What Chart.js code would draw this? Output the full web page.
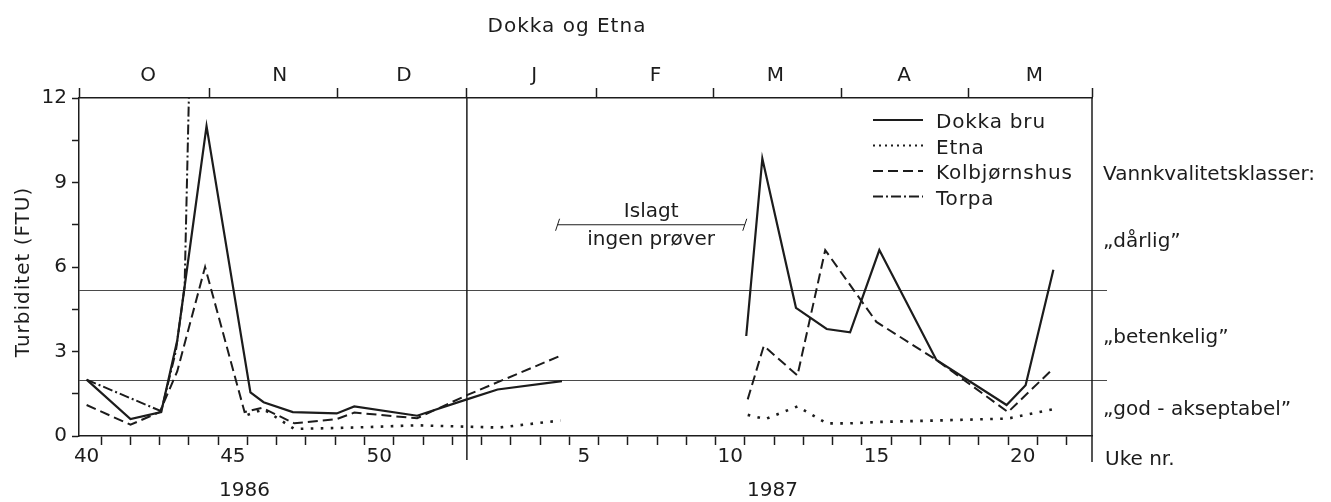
<!DOCTYPE html>
<html>
<head>
<meta charset="utf-8">
<script src="https://cdn.jsdelivr.net/npm/chart.js@4.4.1/dist/chart.umd.min.js"></script>
<style>
  html, body { margin: 0; padding: 0; background: #fff; }
</style>
</head>
<body>
<canvas id="turbiditet" width="1331" height="502"></canvas>
<script>
// Uke-akse: 1987-uker regnes som 52 + uke, slik at aksen blir sammenhengende.
// null = ingen prøver (islagt periode).
const dokkaWeeks  = [40.0, 41.5, 42.55, 43.1, 44.1, 45.6, 46.05, 47.05, 48.55, 49.15, 51.3, 53.0, 54.05, 56.25, 59, 62.55, 63.1, 64.25, 65.3, 66.1, 67.1, 69.05, 71.45, 72.1, 73.05];
const dokkaValues = [2.0, 0.6, 0.85, 3.4, 11.0, 1.55, 1.2, 0.85, 0.8, 1.05, 0.72, 1.3, 1.65, 1.95, null, 3.55, 9.85, 4.55, 3.8, 3.68, 6.6, 2.7, 1.1, 1.8, 5.9];

const etnaWeeks  = [45.5, 46.05, 47.1, 49.15, 51.3, 53.0, 54.1, 56.2, 59, 62.6, 63.2, 64.3, 65.3, 66.1, 67.1, 69.05, 71.5, 73.05];
const etnaValues = [0.75, 0.95, 0.25, 0.3, 0.38, 0.33, 0.3, 0.55, null, 0.75, 0.6, 1.05, 0.45, 0.45, 0.5, 0.55, 0.62, 0.95];

const kolbWeeks  = [40.0, 41.5, 42.5, 43.1, 44.05, 45.4, 46.0, 47.1, 48.55, 49.15, 51.3, 53.0, 56.2, 59, 62.6, 63.15, 64.3, 65.25, 67.0, 69.05, 71.5, 73.0];
const kolbValues = [1.1, 0.4, 0.85, 2.3, 6.0, 0.85, 1.0, 0.45, 0.6, 0.83, 0.63, 1.45, 2.85, null, 1.3, 3.2, 2.15, 6.6, 4.05, 2.7, 0.85, 2.35];

const torpaWeeks  = [40.0, 42.55, 43.05, 43.35, 43.55];
const torpaValues = [2.0, 0.88, 3.0, 5.3, 14.5];

const weekLabels = { 40: '40', 45: '45', 50: '50', 57: '5', 62: '10', 67: '15', 72: '20' };
const yTickValues = [0, 1.5, 3, 4.5, 6, 7.5, 9, 10.5, 12];

const monthNames   = ['O', 'N', 'D', 'J', 'F', 'M', 'A', 'M'];
const monthCenters = [42.1, 46.6, 50.85, 55.3, 59.45, 63.55, 67.95, 72.4];
const monthBounds  = [44.2, 48.57, 53.0, 57.43, 61.42, 65.81, 70.14];

const yearNames = ['1986', '1987'];
const yearCenters = [45.4, 63.45];
const yearLine = 53.0;

const classLimits = [5.2, 2.0];
const classNames = ['„dårlig”', '„betenkelig”', '„god - akseptabel”'];

const islagtFrom = 56.1, islagtTo = 62.5, islagtLevel = 7.5;

const xMin = 39.74, xMax = 74.37;
const INK = '#1c1c1c';
const FONT = '"DejaVu Sans", sans-serif';

Chart.defaults.font.family = FONT;
Chart.defaults.font.size = 20;
Chart.defaults.color = INK;

function points(weeks, values) {
    return weeks.map((w, i) => ({ x: w, y: values[i] }));
}

function line(ctx, x1, y1, x2, y2) {
    ctx.beginPath();
    ctx.moveTo(x1, y1);
    ctx.lineTo(x2, y2);
    ctx.stroke();
}

const decor = {
    id: 'decor',
    beforeDatasetsDraw(chart) {
        const { ctx, chartArea: a, scales: { y } } = chart;
        ctx.save();
        ctx.strokeStyle = '#4a4a4a';
        ctx.lineWidth = 1;
        classLimits.forEach(v => {
            const py = Math.round(y.getPixelForValue(v)) + 0.5;
            line(ctx, a.left, py, a.right + 15, py);
        });
        ctx.restore();
    },
    afterDatasetsDraw(chart) {
        const { ctx, chartArea: a, scales: { x, y } } = chart;
        ctx.save();
        ctx.strokeStyle = INK;
        ctx.fillStyle = INK;
        ctx.lineWidth = 1.5;

        // årsskille og høyre kant
        const yx = x.getPixelForValue(yearLine);
        line(ctx, yx, a.top, yx, a.bottom + 24);
        line(ctx, a.right, a.top, a.right, a.bottom + 26);

        // islagt periode
        const ly = y.getPixelForValue(islagtLevel);
        const lx1 = x.getPixelForValue(islagtFrom), lx2 = x.getPixelForValue(islagtTo);
        ctx.lineWidth = 1;
        line(ctx, lx1, ly, lx2, ly);
        line(ctx, lx1 - 2, ly + 6, lx1 + 2, ly - 6);
        line(ctx, lx2 - 2, ly + 6, lx2 + 2, ly - 6);
        ctx.font = '20px ' + FONT;
        ctx.textAlign = 'center';
        ctx.textBaseline = 'alphabetic';
        const lc = (lx1 + lx2) / 2;
        ctx.fillText('Islagt', lc, ly - 8);
        ctx.fillText('ingen prøver', lc, ly + 20);

        // årstall
        yearNames.forEach((t, i) => ctx.fillText(t, x.getPixelForValue(yearCenters[i]), 496));

        // tittel
        ctx.letterSpacing = '1px';
        ctx.fillText('Dokka og Etna', 567, 32);

        // y-aksetittel
        ctx.save();
        ctx.translate(29, 272);
        ctx.rotate(-Math.PI / 2);
        ctx.fillText('Turbiditet (FTU)', 0, 0);
        ctx.restore();

        // tegnforklaring
        ctx.letterSpacing = '0.8px';
        ctx.textAlign = 'left';
        chart.data.datasets.forEach((ds, i) => {
            const base = 128 + i * 25.5;
            ctx.save();
            ctx.lineWidth = 2;
            ctx.setLineDash(ds.legendDash || ds.borderDash || []);
            line(ctx, 873, base - 8, 923, base - 8);
            ctx.restore();
            ctx.fillText(ds.label, 936, base);
        });

        // vannkvalitetsklasser
        ctx.letterSpacing = '0px';
        const tx = a.right + 11;
        ctx.fillText('Vannkvalitetsklasser:', tx, 180);
        ctx.fillText(classNames[0], tx, 247);
        ctx.fillText(classNames[1], tx, 343);
        ctx.fillText(classNames[2], tx, 415);
        ctx.fillText('Uke nr.', tx + 2, 465);
        ctx.restore();
    }
};

const lineStyle = {
    borderColor: INK,
    borderWidth: 2,
    pointRadius: 0,
    fill: false,
    tension: 0,
    spanGaps: false,
    xAxisID: 'x',
    yAxisID: 'y'
};

new Chart(document.getElementById('turbiditet').getContext('2d'), {
    type: 'line',
    data: {
        datasets: [
            { ...lineStyle, label: 'Dokka bru', data: points(dokkaWeeks, dokkaValues), borderWidth: 2.2 },
            { ...lineStyle, label: 'Etna', data: points(etnaWeeks, etnaValues), borderWidth: 2.6, borderDash: [2.6, 7.4], legendDash: [2, 4] },
            { ...lineStyle, label: 'Kolbjørnshus', data: points(kolbWeeks, kolbValues), borderDash: [10, 5] },
            { ...lineStyle, label: 'Torpa', data: points(torpaWeeks, torpaValues), borderDash: [10, 3, 2, 3] }
        ]
    },
    options: {
        responsive: false,
        animation: false,
        layout: { padding: { top: 0, right: 239, bottom: 0, left: 0 } },
        plugins: {
            legend: { display: false },
            tooltip: { enabled: false }
        },
        scales: {
            x: {
                type: 'linear',
                position: 'bottom',
                min: xMin,
                max: xMax,
                afterBuildTicks: axis => {
                    const vals = Object.keys(weekLabels).map(Number);
                    for (let w = 40.5; w < xMax; w += 1) vals.push(w);
                    axis.ticks = vals.sort((a, b) => a - b).map(v => ({ value: v }));
                },
                afterFit: axis => { axis.height = 66; },
                ticks: {
                    autoSkip: false,
                    maxRotation: 0,
                    padding: 0,
                    callback: v => weekLabels[v] || ''
                },
                grid: {
                    drawOnChartArea: false,
                    tickLength: 9,
                    tickWidth: 1.5,
                    tickColor: ctx => (ctx.tick && ctx.tick.value % 1 !== 0) ? INK : 'rgba(0,0,0,0)'
                },
                border: { color: INK, width: 1.5 }
            },
            x2: {
                type: 'linear',
                position: 'top',
                min: xMin,
                max: xMax,
                afterBuildTicks: axis => {
                    const vals = [xMin, ...monthBounds, xMax, ...monthCenters];
                    axis.ticks = vals.sort((a, b) => a - b).map(v => ({ value: v }));
                },
                afterFit: axis => { axis.height = 98; },
                ticks: {
                    autoSkip: false,
                    maxRotation: 0,
                    padding: 0,
                    callback: v => {
                        const i = monthCenters.indexOf(v);
                        return i >= 0 ? monthNames[i] : '';
                    }
                },
                grid: {
                    drawOnChartArea: false,
                    tickLength: 10,
                    tickWidth: 1.5,
                    tickColor: ctx => (ctx.tick && monthCenters.includes(ctx.tick.value)) ? 'rgba(0,0,0,0)' : INK
                },
                border: { color: INK, width: 1.5 }
            },
            y: {
                min: 0,
                max: 12,
                afterBuildTicks: axis => { axis.ticks = yTickValues.map(v => ({ value: v })); },
                afterFit: axis => { axis.width = 79; },
                ticks: {
                    padding: 5,
                    callback: v => v % 3 === 0 ? String(v) : ''
                },
                grid: {
                    drawOnChartArea: false,
                    tickLength: 7,
                    tickWidth: 1.5,
                    tickColor: INK
                },
                border: { color: INK, width: 1.5 }
            }
        }
    },
    plugins: [decor]
});
</script>
</body>
</html>
